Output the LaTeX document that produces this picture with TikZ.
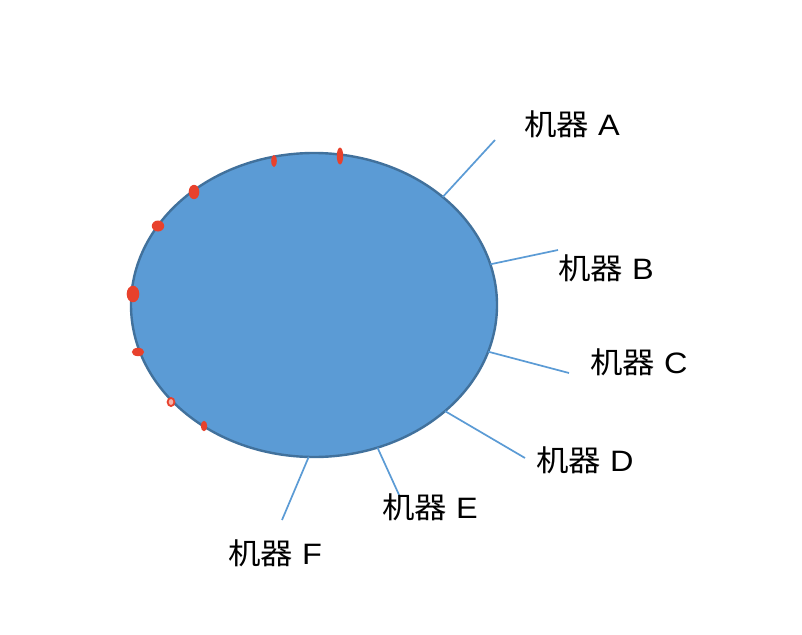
\documentclass[tikz,border=0pt]{standalone}
\usepackage{fontspec}
\setmainfont{Liberation Sans}
\newfontfamily\cjk{Noto Sans CJK SC}
\usetikzlibrary{shapes.geometric}
\definecolor{ringfill}{HTML}{5B9BD5}
\definecolor{ringedge}{HTML}{41719C}
\definecolor{spoke}{HTML}{5B9BD5}
\definecolor{mark}{HTML}{E8412C}
\tikzset{
  ringshape/.style={ellipse, draw=ringedge, fill=ringfill, line width=2.4pt, inner sep=0pt, outer sep=0pt, minimum width=366pt, minimum height=304pt},
  spokeline/.style={draw=spoke, line width=1.7pt},
  machine/.style={inner sep=0pt, font=\fontsize{29.5}{35}\selectfont, xscale=1.1, anchor=west},
  redmark/.style={fill=mark, draw=none}
}
\begin{document}
\begin{tikzpicture}[x=1pt,y=-1pt]
\path[use as bounding box, fill=white] (0,0) rectangle (802,634);
\node[ringshape] (ring) at (314,305) {};
% red marks on the ring
\fill[redmark] (340,156) ellipse [x radius=3.2, y radius=8.5];
\fill[redmark] (274,161) ellipse [x radius=2.8, y radius=6];
\fill[redmark] (194,192) ellipse [x radius=5.3, y radius=7.2];
\fill[redmark] (158,226) ellipse [x radius=6.2, y radius=5.5];
\fill[redmark] (133,294) ellipse [x radius=6.3, y radius=8.3];
\fill[redmark] (138,352) ellipse [x radius=6.2, y radius=4.2];
\draw[draw=mark, fill=white!60!mark, line width=1.8pt] (171,402) ellipse [x radius=3.4, y radius=4];
\fill[redmark] (204,426) ellipse [x radius=3.2, y radius=5.2];
% spoke ends
\coordinate (eA) at (495,140);
\coordinate (eB) at (558,250);
\coordinate (eC) at (569,373);
\coordinate (eD) at (525,458);
\coordinate (eE) at (400,497);
\coordinate (eF) at (282,520);
\draw[spokeline] (ring.40) -- (eA);
\draw[spokeline] (ring.13.6) -- (eB);
\draw[spokeline] (ring.-15.3) -- (eC);
\draw[spokeline] (ring.-39.2) -- (eD);
\draw[spokeline] (ring.-66.5) -- (eE);
\draw[spokeline] (ring.-92.5) -- (eF);
% labels
\node[machine] (mA) at (524,124) {{\cjk 机器} A};
\node[machine] (mB) at (558,268) {{\cjk 机器} B};
\node[machine] (mC) at (590,362) {{\cjk 机器} C};
\node[machine] (mD) at (536,460) {{\cjk 机器} D};
\node[machine] (mE) at (382,507) {{\cjk 机器} E};
\node[machine] (mF) at (228,553) {{\cjk 机器} F};
\end{tikzpicture}
\end{document}
